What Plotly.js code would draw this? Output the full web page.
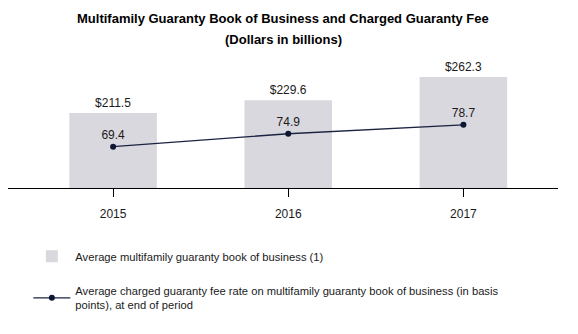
<!DOCTYPE html>
<html><head><meta charset="utf-8">
<script src="https://cdn.plot.ly/plotly-3.0.1.min.js"></script>
<style>html,body{margin:0;padding:0;background:#fff}#chart{width:578px;height:334px}</style>
</head><body><div id="chart"></div>
<script>
const years = ['2015', '2016', '2017'];
const bookOfBusiness = [211.5, 229.6, 262.3];
const guarantyFee = [69.4, 74.9, 78.7];
const titleLines = ['Multifamily Guaranty Book of Business and Charged Guaranty Fee', '(Dollars in billions)'];
const barName = 'Average multifamily guaranty book of business (1)';
const lineName = 'Average charged guaranty fee rate on multifamily guaranty book of business (in basis<br>points), at end of period';

const font = 'Liberation Sans, Arial, sans-serif';
const data = [
  {
    type: 'bar', x: years, y: bookOfBusiness, name: barName,
    marker: {color: '#d9d8de'}, width: 0.5,
    text: bookOfBusiness.map(v => '$' + v.toFixed(1)), textposition: 'outside',
    textfont: {size: 12, color: '#1a1a1a', family: font}, cliponaxis: false,
    hoverinfo: 'none', legendgroup: 'a'
  },
  {
    type: 'scatter', mode: 'lines+markers+text', x: years, y: guarantyFee, name: lineName,
    yaxis: 'y2', line: {color: '#1a2340', width: 1.3}, marker: {color: '#0d1733', size: 6},
    text: guarantyFee.map(v => v.toFixed(1)), textposition: 'top center',
    textfont: {size: 12, color: '#1a1a1a', family: font}, cliponaxis: false,
    hoverinfo: 'none', legendgroup: 'b'
  }
];
const layout = {
  width: 578, height: 334,
  margin: {l: 8, r: 20, t: 60, b: 146},
  paper_bgcolor: '#fff', plot_bgcolor: '#fff',
  font: {family: font, color: '#1a1a1a', size: 11},
  annotations: [
    {text: '<b>' + titleLines[0] + '</b>', xref: 'paper', yref: 'paper', x: 0.5, y: (334 - 146 - 18) / 128 ,
     xanchor: 'center', yanchor: 'middle', showarrow: false, font: {size: 13, color: '#000', family: font}},
    {text: '<b>' + titleLines[1] + '</b>', xref: 'paper', yref: 'paper', x: 0.5, y: (334 - 146 - 39) / 128 ,
     xanchor: 'center', yanchor: 'middle', showarrow: false, font: {size: 13, color: '#000', family: font}}
  ],
  showlegend: true,
  legend: {x: 0.037, xanchor: 'left', y: -0.42, yanchor: 'top', orientation: 'v', itemwidth: 37,
           font: {size: 11.2, color: '#1a1a1a', family: font}, tracegroupgap: 16, traceorder: 'grouped',
           bgcolor: 'rgba(0,0,0,0)'},
  xaxis: {type: 'category', range: [-0.6, 2.54], showgrid: false, zeroline: false,
          showline: true, linecolor: '#000', linewidth: 1.3, ticks: 'outside', ticklen: 8,
          ticklabelstandoff: 6,
          tickcolor: '#000', tickfont: {size: 12, color: '#1a1a1a'}, fixedrange: true},
  yaxis: {range: [105.7, 286.2], visible: false, showgrid: false, zeroline: false},
  yaxis2: {range: [51.8, 106.3], overlaying: 'y', visible: false, showgrid: false, zeroline: false},
  bargap: 0.5
};
Plotly.newPlot('chart', data, layout, {staticPlot: true});
</script></body></html>
